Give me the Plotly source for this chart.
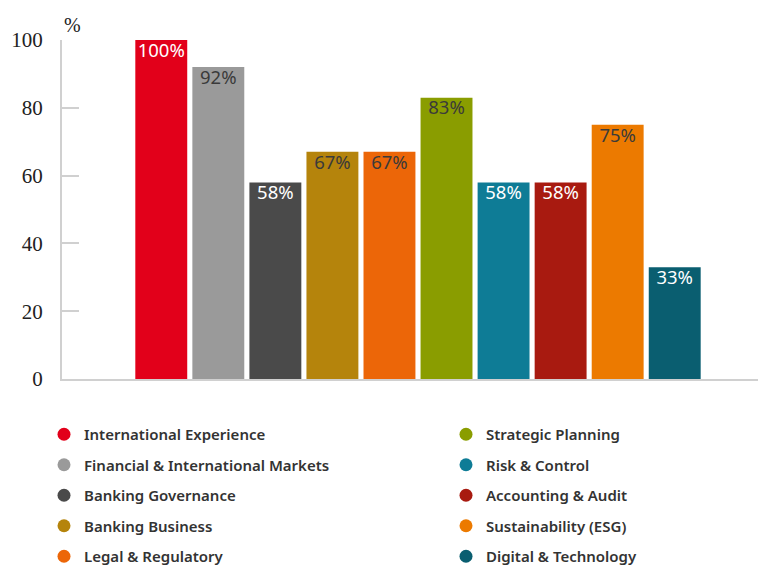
import plotly.graph_objects as go

categories = ["International Experience", "Financial & International Markets", "Banking Governance",
              "Banking Business", "Legal & Regulatory", "Strategic Planning", "Risk & Control",
              "Accounting & Audit", "Sustainability (ESG)", "Digital & Technology"]
values = [100, 92, 58, 67, 67, 83, 58, 58, 75, 33]
colors = ["#E2001A", "#9A9A9A", "#4A4A4A", "#B5840C", "#EC6608", "#8A9D00",
          "#0E7C96", "#A81A10", "#EC7A00", "#0A5E70"]
label_colors = ["#FFFFFF", "#3A3A3A", "#FFFFFF", "#3A3A3A", "#3A3A3A", "#3A3A3A",
                "#FFFFFF", "#FFFFFF", "#3A3A3A", "#FFFFFF"]
y_ticks = [0, 20, 40, 60, 80, 100]

W, H = 758, 557  # page body has an 8px margin

fig = go.Figure()
for i, (c, v) in enumerate(zip(categories, values)):
    fig.add_trace(go.Bar(
        x=[i], y=[v], width=0.91, marker=dict(color=colors[i], line=dict(width=0)),
        showlegend=False, hoverinfo="skip"))

# value labels just inside the top of each bar (invisible marker only sets the text offset)
fig.add_trace(go.Scatter(
    x=list(range(len(values))), y=values, mode="markers+text",
    marker=dict(size=3, color="rgba(0,0,0,0)"),
    text=[f"{v}%" for v in values], textposition="bottom center",
    textfont=dict(family="Noto Sans", size=18.5, color=label_colors),
    showlegend=False, hoverinfo="skip"))

for i, c in enumerate(categories):
    fig.add_trace(go.Scatter(
        x=[None], y=[None], mode="markers", name=c,
        marker=dict(symbol="circle", size=13, color=colors[i]),
        legendgroup=f"g{i}", legend="legend" if i < 5 else "legend2"))

legend_common = dict(
    orientation="v", xref="container", yref="container", yanchor="top", xanchor="left",
    font=dict(family="Noto Sans", size=15, color="#333333", weight=600),
    tracegroupgap=8, itemsizing="trace", bgcolor="rgba(0,0,0,0)", traceorder="grouped")

fig.update_layout(
    width=W, height=H, plot_bgcolor="white", paper_bgcolor="white",
    margin=dict(l=54, r=0, t=32, b=186, autoexpand=False),
    barmode="overlay",
    xaxis=dict(range=[-1.74, 10.6], showticklabels=False, showgrid=False, zeroline=False,
               showline=True, linecolor="#D0D0D0", linewidth=2, ticks=""),
    yaxis=dict(range=[0, 100], tickvals=y_ticks, showgrid=False, zeroline=False,
               showline=True, linecolor="#D0D0D0", linewidth=2,
               ticks="inside", ticklen=17, tickcolor="#D0D0D0", tickwidth=1.5,
               ticklabelstandoff=13,
               tickfont=dict(family="Liberation Serif", size=21, color="#222222")),
    legend=dict(x=36 / W, y=1 - 410 / H, **legend_common),
    legend2=dict(x=438 / W, y=1 - 410 / H, **legend_common),
    annotations=[dict(text="%", xref="paper", yref="paper",
                      x=(72 - 62) / 704, y=(379 - 25) / 339,
                      xanchor="center", yanchor="middle", showarrow=False,
                      font=dict(family="Liberation Serif", size=20, color="#222222"))],
)

fig.write_html("out.html")
